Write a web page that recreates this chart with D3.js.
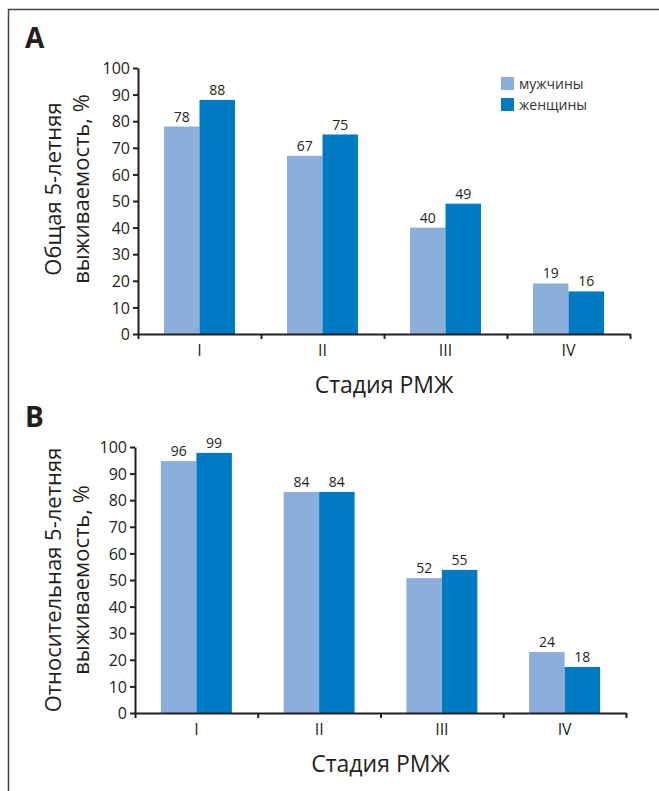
<!DOCTYPE html>
<html>
<head>
<meta charset="utf-8">
<script src="https://cdn.jsdelivr.net/npm/d3@7"></script>
<style>
  body { margin: 0; background: #fff; }
  svg { display: block; font-family: "Open Sans", sans-serif; }
  .axis path, .axis line { stroke: #231f20; stroke-width: 2px; }
  .axis text { fill: #231f20; font-size: 16px; font-family: "Open Sans", sans-serif; }
  .lbl { fill: #231f20; font-size: 14px; }
</style>
</head>
<body>
<div id="chart"></div>
<script>
const stages = ['I', 'II', 'III', 'IV']
const series = ['мужчины', 'женщины']
const colors = ['#8caedb', '#007bc3']
const yTicks = [0, 10, 20, 30, 40, 50, 60, 70, 80, 90, 100]

// A: overall survival
const overallMen = [78, 67, 40, 19]
const overallWomen = [88, 75, 49, 16]

// B: relative survival (bar heights as drawn, printed labels)
const relativeMen = [94.7, 83.1, 50.7, 22.9]
const relativeWomen = [97.8, 83.1, 53.8, 17.3]
const relativeMenLabels = [96, 84, 52, 24]
const relativeWomenLabels = [99, 84, 55, 18]

const W = 659, H = 791
const svg = d3.select('#chart').append('svg')
  .attr('width', W)
  .attr('height', H)

// frame (left + top only)
svg.append('path')
  .attr('d', `M8.5,${H} L8.5,9.5 L${W},9.5`)
  .attr('fill', 'none')
  .attr('stroke', '#444')
  .attr('stroke-width', 1.5)

function drawPanel({ letter, letterY, left, right, top, bottom, men, women, menLabels, womenLabels, titleLines, titleShift, legend }) {
  const g = svg.append('g')

  const y = d3.scaleLinear().domain([0, 100]).range([bottom, top])
  const xEdge = d3.scaleLinear().domain([0, stages.length]).range([left, right])
  const x = d3.scaleBand().domain(stages).range([left, right])
  const barW = 35.5
  const inner = d3.scaleBand().domain(series).range([-barW, barW])

  g.append('text')
    .attr('x', 25)
    .attr('y', letterY)
    .attr('font-size', 28)
    .attr('font-weight', 'bold')
    .attr('fill', '#231f20')
    .text(letter)

  const rows = stages.map((s, i) => ({
    stage: s,
    vals: [
      { key: series[0], v: men[i], label: menLabels[i] },
      { key: series[1], v: women[i], label: womenLabels[i] }
    ]
  }))

  const grp = g.selectAll('.grp')
    .data(rows)
    .enter()
    .append('g')
    .attr('transform', d => `translate(${x(d.stage) + x.bandwidth() / 2},0)`)

  grp.selectAll('rect')
    .data(d => d.vals)
    .enter()
    .append('rect')
    .attr('x', d => inner(d.key))
    .attr('width', inner.bandwidth())
    .attr('y', d => y(d.v))
    .attr('height', d => y(0) - y(d.v))
    .attr('fill', (d, i) => colors[i])

  grp.selectAll('.lbl')
    .data(d => d.vals)
    .enter()
    .append('text')
    .attr('class', 'lbl')
    .attr('x', d => inner(d.key) + inner.bandwidth() / 2)
    .attr('y', d => y(d.v) - 5)
    .attr('text-anchor', 'middle')
    .text(d => d.label)

  // y axis
  const yAxis = g.append('g')
    .attr('class', 'axis')
    .attr('transform', `translate(${left},0)`)
    .call(d3.axisLeft(y).tickValues(yTicks).tickSize(5).tickSizeOuter(0).tickPadding(3))
  yAxis.selectAll('text').attr('dy', '0.36em')

  // x axis: boundary ticks
  g.append('g')
    .attr('class', 'axis')
    .attr('transform', `translate(0,${bottom})`)
    .call(d3.axisBottom(xEdge).tickValues(d3.range(0, stages.length + 1)).tickFormat('').tickSize(5).tickSizeOuter(0))

  // x axis: stage labels
  const xl = g.append('g')
    .attr('class', 'axis')
    .attr('transform', `translate(0,${bottom})`)
    .call(d3.axisBottom(x).tickSize(0).tickPadding(11))
  xl.select('.domain').remove()

  g.append('text')
    .attr('x', (left + right) / 2)
    .attr('y', bottom + 59)
    .attr('text-anchor', 'middle')
    .attr('font-size', 23)
    .attr('fill', '#231f20')
    .text('Стадия РМЖ')

  const cy = (top + bottom) / 2 + titleShift
  titleLines.forEach((t, i) => {
    g.append('text')
      .attr('transform', `translate(${61 + i * 28},${cy}) rotate(-90)`)
      .attr('text-anchor', 'middle')
      .attr('font-size', 22)
      .attr('fill', '#231f20')
      .text(t)
  })

  if (legend) {
    const lg = g.append('g').attr('transform', 'translate(501,77)')
    series.forEach((s, i) => {
      lg.append('rect')
        .attr('x', 0)
        .attr('y', i * 21)
        .attr('width', 13)
        .attr('height', 13)
        .attr('fill', colors[i])
      lg.append('text')
        .attr('x', 18)
        .attr('y', i * 21 + 7)
        .attr('dy', '0.35em')
        .attr('font-size', 14)
        .attr('fill', '#333')
        .text(s)
    })
  }
}

drawPanel({
  letter: 'A', letterY: 48,
  left: 138, right: 630, top: 68, bottom: 334,
  men: overallMen, women: overallWomen,
  menLabels: overallMen, womenLabels: overallWomen,
  titleLines: ['Общая 5-летняя', 'выживаемость, %'],
  titleShift: -12,
  legend: true
})

drawPanel({
  letter: 'B', letterY: 427,
  left: 135, right: 626, top: 447, bottom: 713,
  men: relativeMen, women: relativeWomen,
  menLabels: relativeMenLabels, womenLabels: relativeWomenLabels,
  titleLines: ['Относительная 5-летняя', 'выживаемость, %'],
  titleShift: 0,
  legend: false
})
</script>
</body>
</html>
